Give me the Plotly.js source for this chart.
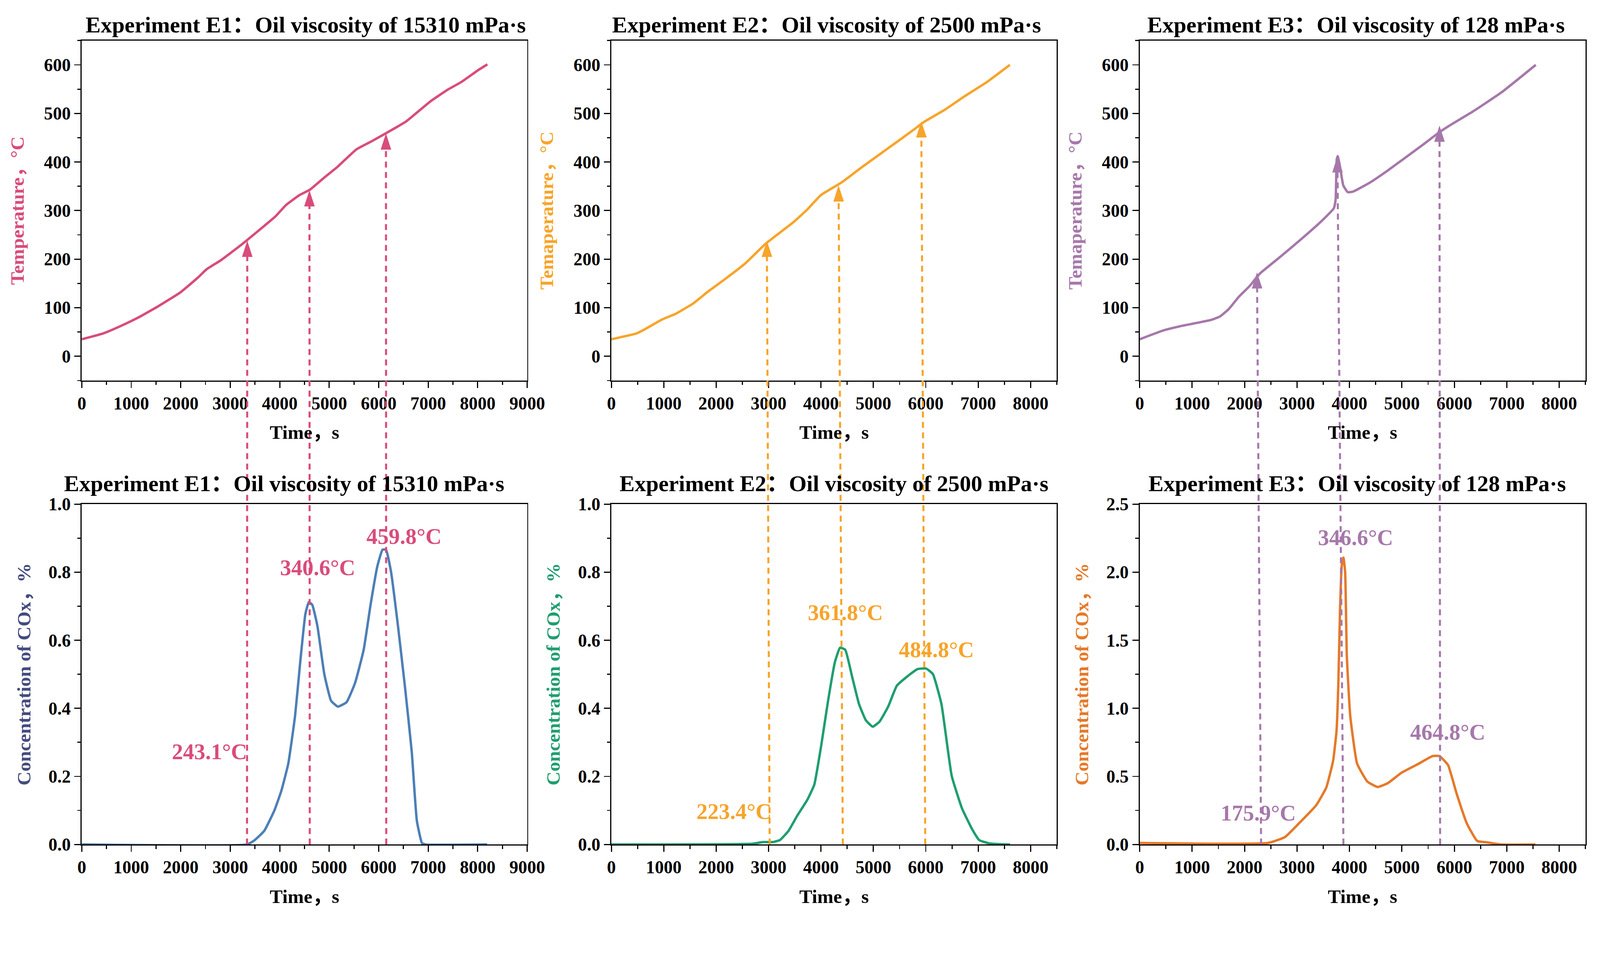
<!DOCTYPE html>
<html><head><meta charset="utf-8">
<script src="https://cdn.plot.ly/plotly-3.0.1.min.js"></script>
<style>html,body{margin:0;padding:0;background:#fff;overflow:hidden}</style>
</head><body><div id="chart"></div>
<script>
// ---------- data ----------
const e1TempTime = [0,432,780,1128,1546,1999,2347,2521,2800,3217,3635,3914,4123,4401,4610,4889,5167,5550,5864,6281,6560,7047,7396,7674,8022,8196];
const e1Temp     = [35,47,62,79,103,132,162,179,197,229,264,288,311,332,343,367,390,426,443,467,484,525,549,565,590,601];
const e2TempTime = [0,250,480,645,974,1237,1566,1829,2158,2553,2947,3474,3737,4000,4395,4789,5316,5776,5974,6368,6763,7158,7605];
const e2Temp     = [35,41,47,56,76,88,109,132,158,191,232,276,302,332,358,390,431,467,483,508,537,564,600];
const e3TempTime = [0,447,776,1105,1368,1533,1697,1895,2092,2289,2684,3079,3474,3704,3737,3757,3776,3816,3882,3967,4066,4395,4724,5053,5382,5711,5908,6368,6895,7553];
const e3Temp     = [35,53,62,69,75,82,97,123,144,170,205,241,279,305,323,405,412,393,352,338,339,358,382,408,434,461,475,505,543,600];

const e1CoxTime = [0,3340,3479,3687,3895,4033,4172,4310,4414,4518,4588,4657,4761,4900,5038,5177,5350,5523,5696,5835,5973,6077,6147,6250,6389,6528,6667,6770,6874,6944,8191];
const e1Cox     = [0,0,0.011,0.040,0.101,0.158,0.237,0.378,0.536,0.677,0.712,0.704,0.642,0.501,0.422,0.405,0.418,0.475,0.572,0.704,0.818,0.866,0.866,0.800,0.642,0.466,0.273,0.070,0.004,0,0];
const e2CoxTime = [0,2693,2890,3086,3217,3381,3545,3742,3873,4004,4135,4266,4364,4463,4594,4725,4856,4987,5118,5282,5446,5642,5839,6003,6134,6298,6494,6691,6887,7018,7215,7608];
const e2Cox     = [0,0.002,0.007,0.007,0.013,0.040,0.084,0.132,0.176,0.290,0.422,0.536,0.578,0.572,0.493,0.413,0.365,0.346,0.361,0.405,0.466,0.493,0.515,0.517,0.501,0.413,0.202,0.106,0.044,0.013,0.003,0];
const e3CoxTime = [0,2446,2773,3035,3362,3558,3689,3754,3787,3820,3852,3885,3918,3950,4015,4146,4342,4538,4735,4997,5324,5585,5716,5880,6043,6239,6435,6632,6893,7547];
const e3Cox     = [0.011,0.011,0.055,0.154,0.286,0.418,0.616,0.836,1.165,1.715,2.045,2.107,2.001,1.385,0.945,0.594,0.462,0.422,0.451,0.528,0.594,0.649,0.649,0.583,0.374,0.154,0.026,0.015,0,0];

// arrows: time at tip (top panel), time at base (bottom panel x-axis), temperature at tip
const e1ArrowTop = [3344,4600,6146], e1ArrowBase = [3339,4607,6152], e1ArrowTip = [238,342,459];
const e2ArrowTop = [2967,4335,5914], e2ArrowBase = [3021,4417,5990], e2ArrowTip = [238,352,484];
const e3ArrowTop = [2237,3770,5717], e3ArrowBase = [2315,3885,5729], e3ArrowTip = [173,412,475];

// peak labels
const e1Labels = ['243.1°C','340.6°C','459.8°C'], e1LabelX = [2585,4768,6514], e1LabelY = [0.273,0.814,0.906];
const e2Labels = ['223.4°C','361.8°C','484.8°C'], e2LabelX = [2346,4469,6206], e2LabelY = [0.097,0.682,0.573];
const e3Labels = ['175.9°C','346.6°C','464.8°C'], e3LabelX = [2263,4120,5880], e3LabelY = [0.231,2.254,0.825];

const titles = ['Experiment E1：Oil viscosity of 15310 mPa·s','Experiment E2：Oil viscosity of 2500 mPa·s','Experiment E3：Oil viscosity of 128 mPa·s'];
const tempTitles = ['Temperature，°C','Temaperature，°C','Temaperature，°C'];
const coxTitle = 'Concentration of COx，%';
const timeTitle = 'Time，s';

// ---------- style ----------
const W0 = 4303, H0 = 2462;
const k = Math.min((window.innerWidth||W0)/W0, (window.innerHeight||H0)/H0);
const P = v => v*k;

const tempColors = ['#d94c7a','#f7a42a','#a678aa'];
const coxColors  = ['#4d7fb6','#1f9e6f','#e5792a'];
const coxTitleColors = ['#434b7f','#1f9e6f','#e5792a'];
const FONT = 'Liberation Serif, Noto Sans CJK SC, serif';

const colDom = [[0.0511,0.3295],[0.3821,0.6605],[0.7123,0.9909]];
const topDom = [0.5845,0.9557], botDom = [0.0780,0.4496];
const xRanges = [[0,9000],[0,8500],[0,8500]];
const tempRange = [-50,650];
const coxRanges = [[0,1],[0,1],[0,2.5]];
const coxDtick = [0.2,0.2,0.5];

const minorBase = {ticks:'outside', ticklen:P(9), tickwidth:P(3), tickcolor:'#000', showgrid:false};
function ax(extra){
  return Object.assign({
    showline:true, linecolor:'#000', linewidth:P(3), mirror:true,
    ticks:'outside', ticklen:P(17), tickwidth:P(3), tickcolor:'#000',
    showgrid:false, zeroline:false, automargin:false, fixedrange:true,
    tickfont:{family:FONT, size:P(48), color:'#000', weight:700}
  }, extra);
}

const tempTimes = [e1TempTime,e2TempTime,e3TempTime], temps=[e1Temp,e2Temp,e3Temp];
const coxTimes = [e1CoxTime,e2CoxTime,e3CoxTime], coxs=[e1Cox,e2Cox,e3Cox];
const arrowTops=[e1ArrowTop,e2ArrowTop,e3ArrowTop], arrowBases=[e1ArrowBase,e2ArrowBase,e3ArrowBase], arrowTips=[e1ArrowTip,e2ArrowTip,e3ArrowTip];
const labels=[e1Labels,e2Labels,e3Labels], labelX=[e1LabelX,e2LabelX,e3LabelX], labelY=[e1LabelY,e2LabelY,e3LabelY];

const traces = [];
const layout = {
  width:P(W0), height:P(H0), margin:{l:0,r:0,t:0,b:0,pad:0},
  paper_bgcolor:'#fff', plot_bgcolor:'rgba(0,0,0,0)', showlegend:false,
  font:{family:FONT, color:'#000'}, annotations:[]
};
const titleX = [[0.5025,0.454],[0.483,0.5],[0.485,0.488]];

for(let c=0;c<3;c++){
  const tIdx = c+1, bIdx = c+4, oIdx = c+7;
  const tx = tIdx===1?'x':'x'+tIdx, ty = tIdx===1?'y':'y'+tIdx;
  const bx = 'x'+bIdx, by = 'y'+bIdx, ox='x'+oIdx, oy='y'+oIdx;
  const txk = tIdx===1?'xaxis':'xaxis'+tIdx, tyk = tIdx===1?'yaxis':'yaxis'+tIdx;
  layout[txk] = ax({domain:colDom[c], range:xRanges[c], anchor:ty, dtick:1000, tick0:0,
    minor:Object.assign({},minorBase,{dtick:500}),
    title:{text:timeTitle, standoff:P(34), font:{family:FONT,size:P(52),weight:700,color:'#000'}}});
  layout[tyk] = ax({domain:topDom, range:tempRange, anchor:tx, dtick:100, tick0:0,
    minor:Object.assign({},minorBase,{dtick:50}),
    title:{text:tempTitles[c], standoff:P(38), font:{family:FONT,size:P(52),weight:700,color:tempColors[c]}}});
  layout['xaxis'+bIdx] = ax({domain:colDom[c], range:xRanges[c], anchor:by, dtick:1000, tick0:0,
    minor:Object.assign({},minorBase,{dtick:500}),
    title:{text:timeTitle, standoff:P(34), font:{family:FONT,size:P(52),weight:700,color:'#000'}}});
  layout['yaxis'+bIdx] = ax({domain:botDom, range:coxRanges[c], anchor:bx, dtick:coxDtick[c], tick0:0, tickformat:'.1f',
    minor:Object.assign({},minorBase,{dtick:coxDtick[c]/2}),
    title:{text:coxTitle, standoff:P(32), font:{family:FONT,size:P(52),weight:700,color:coxTitleColors[c]}}});
  // overlay axes spanning both panels, in temperature units
  const unitsPerPaper = (tempRange[1]-tempRange[0])/(topDom[1]-topDom[0]);
  const overlayBottom = tempRange[1] - unitsPerPaper*(topDom[1]-botDom[0]);
  layout['xaxis'+oIdx] = {domain:colDom[c], range:xRanges[c], anchor:oy, visible:false, fixedrange:true};
  layout['yaxis'+oIdx] = {domain:[botDom[0],topDom[1]], range:[overlayBottom,tempRange[1]], anchor:ox, visible:false, fixedrange:true};

  traces.push({type:'scatter', mode:'lines', x:tempTimes[c], y:temps[c], xaxis:tx, yaxis:ty,
    line:{color:tempColors[c], width:P(6.5), shape:'spline', smoothing:0.4}, hoverinfo:'skip'});
  traces.push({type:'scatter', mode:'lines', x:coxTimes[c], y:coxs[c], xaxis:bx, yaxis:by,
    line:{color:coxColors[c], width:P(6.5), shape:'spline', smoothing:0.4}, hoverinfo:'skip'});
  for(let i=0;i<3;i++){
    traces.push({type:'scatter', mode:'lines+markers', xaxis:ox, yaxis:oy,
      x:[arrowBases[c][i], arrowTops[c][i]], y:[overlayBottom, arrowTips[c][i]],
      line:{color:tempColors[c], width:P(5.5), dash:P(16)+'px,'+P(12)+'px'},
      marker:{symbol:'arrow', size:[0,P(46)], angleref:'previous', color:tempColors[c], opacity:1, line:{width:0}},
      hoverinfo:'skip'});
    layout.annotations.push({xref:bx, yref:by, x:labelX[c][i], y:labelY[c][i], text:labels[c][i],
      showarrow:false, xanchor:'center', yanchor:'middle',
      font:{family:FONT, size:P(60), weight:700, color:tempColors[c]}});
  }
  layout.annotations.push({xref:tx+' domain', yref:ty+' domain', x:titleX[c][0], y:1.046, yanchor:'middle', xanchor:'center',
    text:titles[c], showarrow:false, font:{family:FONT,size:P(61),weight:700,color:'#000'}});
  layout.annotations.push({xref:bx+' domain', yref:by+' domain', x:titleX[c][1], y:1.060, yanchor:'middle', xanchor:'center',
    text:titles[c], showarrow:false, font:{family:FONT,size:P(61),weight:700,color:'#000'}});
}

Plotly.newPlot('chart', traces, layout, {staticPlot:true, displayModeBar:false});
</script>
</body></html>
